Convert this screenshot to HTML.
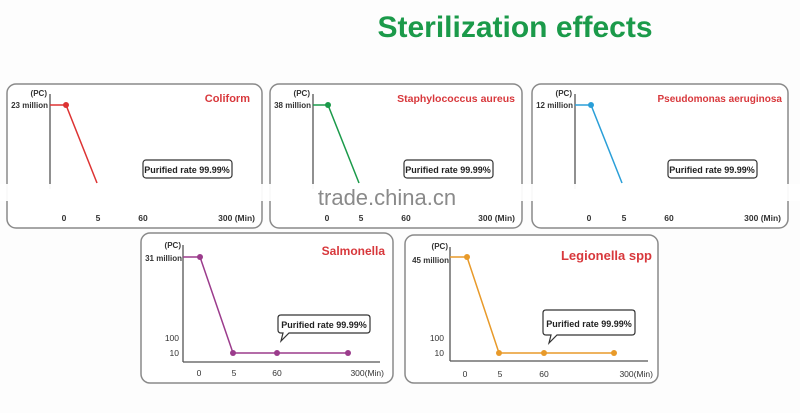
<!DOCTYPE html>
<html><head><style>
html,body{margin:0;padding:0;background:#fff;}
svg{display:block;font-family:"Liberation Sans",sans-serif;}
</style></head><body>
<svg width="800" height="413" viewBox="0 0 800 413">
<rect width="800" height="413" fill="#fdfdfd"/>
<text x="515" y="37" text-anchor="middle" font-size="30" font-weight="bold" fill="#1b9a4a">Sterilization effects</text>

<g transform="translate(7,84)">
 <rect x="0" y="0" width="255" height="144" rx="9" fill="#fff" stroke="#8a8a8a" stroke-width="1.5"/>
 <line x1="43" y1="10" x2="43" y2="105" stroke="#555" stroke-width="1.3"/>
 <text x="40" y="12" font-size="8" font-weight="bold" fill="#333" text-anchor="end">(PC)</text>
 <text x="41" y="24" font-size="8" font-weight="bold" fill="#333" text-anchor="end">23 million</text>
 <line x1="43" y1="21" x2="59" y2="21" stroke="#d33" stroke-width="1.5"/>
 <polyline points="59,21 90,99" fill="none" stroke="#d33" stroke-width="1.5"/>
 <circle cx="59" cy="21" r="3" fill="#d33"/>
 <rect x="136" y="76" width="89" height="18" rx="3" fill="#fff" stroke="#333" stroke-width="1.2"/>
 <text x="180" y="89" font-size="9" font-weight="bold" fill="#222" text-anchor="middle">Purified rate 99.99%</text>
 <text x="243" y="18" font-size="11" font-weight="bold" fill="#d8383c" text-anchor="end">Coliform</text>
 <text x="57" y="137" font-size="8.5" font-weight="bold" fill="#333" text-anchor="middle">0</text>
 <text x="91" y="137" font-size="8.5" font-weight="bold" fill="#333" text-anchor="middle">5</text>
 <text x="136" y="137" font-size="8.5" font-weight="bold" fill="#333" text-anchor="middle">60</text>
 <text x="248" y="137" font-size="8.5" font-weight="bold" fill="#333" text-anchor="end">300 (Min)</text>
</g>
<g transform="translate(270,84)">
 <rect x="0" y="0" width="252" height="144" rx="9" fill="#fff" stroke="#8a8a8a" stroke-width="1.5"/>
 <line x1="43" y1="10" x2="43" y2="105" stroke="#555" stroke-width="1.3"/>
 <text x="40" y="12" font-size="8" font-weight="bold" fill="#333" text-anchor="end">(PC)</text>
 <text x="41" y="24" font-size="8" font-weight="bold" fill="#333" text-anchor="end">38 million</text>
 <line x1="43" y1="21" x2="58" y2="21" stroke="#1b9a4a" stroke-width="1.5"/>
 <polyline points="58,21 89,99" fill="none" stroke="#1b9a4a" stroke-width="1.5"/>
 <circle cx="58" cy="21" r="3" fill="#1b9a4a"/>
 <rect x="134" y="76" width="89" height="18" rx="3" fill="#fff" stroke="#333" stroke-width="1.2"/>
 <text x="178" y="89" font-size="9" font-weight="bold" fill="#222" text-anchor="middle">Purified rate 99.99%</text>
 <text x="245" y="18" font-size="10.5" font-weight="bold" fill="#d8383c" text-anchor="end">Staphylococcus aureus</text>
 <text x="57" y="137" font-size="8.5" font-weight="bold" fill="#333" text-anchor="middle">0</text>
 <text x="91" y="137" font-size="8.5" font-weight="bold" fill="#333" text-anchor="middle">5</text>
 <text x="136" y="137" font-size="8.5" font-weight="bold" fill="#333" text-anchor="middle">60</text>
 <text x="245" y="137" font-size="8.5" font-weight="bold" fill="#333" text-anchor="end">300 (Min)</text>
</g>
<g transform="translate(532,84)">
 <rect x="0" y="0" width="256" height="144" rx="9" fill="#fff" stroke="#8a8a8a" stroke-width="1.5"/>
 <line x1="43" y1="10" x2="43" y2="105" stroke="#555" stroke-width="1.3"/>
 <text x="40" y="12" font-size="8" font-weight="bold" fill="#333" text-anchor="end">(PC)</text>
 <text x="41" y="24" font-size="8" font-weight="bold" fill="#333" text-anchor="end">12 million</text>
 <line x1="43" y1="21" x2="59" y2="21" stroke="#2a9fd8" stroke-width="1.5"/>
 <polyline points="59,21 90,99" fill="none" stroke="#2a9fd8" stroke-width="1.5"/>
 <circle cx="59" cy="21" r="3" fill="#2a9fd8"/>
 <rect x="136" y="76" width="89" height="18" rx="3" fill="#fff" stroke="#333" stroke-width="1.2"/>
 <text x="180" y="89" font-size="9" font-weight="bold" fill="#222" text-anchor="middle">Purified rate 99.99%</text>
 <text x="250" y="18" font-size="10" font-weight="bold" fill="#d8383c" text-anchor="end">Pseudomonas aeruginosa</text>
 <text x="57" y="137" font-size="8.5" font-weight="bold" fill="#333" text-anchor="middle">0</text>
 <text x="92" y="137" font-size="8.5" font-weight="bold" fill="#333" text-anchor="middle">5</text>
 <text x="137" y="137" font-size="8.5" font-weight="bold" fill="#333" text-anchor="middle">60</text>
 <text x="249" y="137" font-size="8.5" font-weight="bold" fill="#333" text-anchor="end">300 (Min)</text>
</g>
<rect x="0" y="184" width="800" height="17" fill="#fff" opacity="0.95"/>
<text x="387" y="205" font-size="22" fill="#8a8a8a" text-anchor="middle">trade.china.cn</text>

<g transform="translate(141,233)">
 <rect x="0" y="0" width="252" height="150" rx="9" fill="#fff" stroke="#8a8a8a" stroke-width="1.5"/>
 <line x1="42" y1="12" x2="42" y2="129" stroke="#555" stroke-width="1.3"/>
 <line x1="42" y1="129" x2="239" y2="129" stroke="#555" stroke-width="1.3"/>
 <text x="40" y="15" font-size="8" font-weight="bold" fill="#333" text-anchor="end">(PC)</text>
 <text x="41" y="28" font-size="8" font-weight="bold" fill="#333" text-anchor="end">31 million</text>
 <text x="38" y="108" font-size="8.5" fill="#333" text-anchor="end">100</text>
 <text x="38" y="123" font-size="8.5" fill="#333" text-anchor="end">10</text>
 <polyline points="42,24 59,24 92,120 136,120 207,120" fill="none" stroke="#9b3c8c" stroke-width="1.5"/>
 <g fill="#9b3c8c"><circle cx="59" cy="24" r="3"/><circle cx="92" cy="120" r="3"/><circle cx="136" cy="120" r="3"/><circle cx="207" cy="120" r="3"/></g>
 <path d="M140,82 L226,82 Q229,82 229,85 L229,97 Q229,100 226,100 L148,100 L140,108 L142,100 L140,100 Q137,100 137,97 L137,85 Q137,82 140,82 Z" fill="#fff" stroke="#333" stroke-width="1.2"/>
 <text x="183" y="95" font-size="9" font-weight="bold" fill="#222" text-anchor="middle">Purified rate 99.99%</text>
 <text x="244" y="22" font-size="12" font-weight="bold" fill="#d8383c" text-anchor="end">Salmonella</text>
 <text x="58" y="143" font-size="8.5" fill="#333" text-anchor="middle">0</text>
 <text x="93" y="143" font-size="8.5" fill="#333" text-anchor="middle">5</text>
 <text x="136" y="143" font-size="8.5" fill="#333" text-anchor="middle">60</text>
 <text x="243" y="143" font-size="8.5" fill="#333" text-anchor="end">300(Min)</text>
</g>
<g transform="translate(405,235)">
 <rect x="0" y="0" width="253" height="148" rx="9" fill="#fff" stroke="#8a8a8a" stroke-width="1.5"/>
 <line x1="45" y1="12" x2="45" y2="126" stroke="#555" stroke-width="1.3"/>
 <line x1="45" y1="126" x2="243" y2="126" stroke="#555" stroke-width="1.3"/>
 <text x="43" y="14" font-size="8" font-weight="bold" fill="#333" text-anchor="end">(PC)</text>
 <text x="44" y="28" font-size="8" font-weight="bold" fill="#333" text-anchor="end">45 million</text>
 <text x="39" y="106" font-size="8.5" fill="#333" text-anchor="end">100</text>
 <text x="39" y="121" font-size="8.5" fill="#333" text-anchor="end">10</text>
 <polyline points="45,22 62,22 94,118 139,118 209,118" fill="none" stroke="#e89a2a" stroke-width="1.5"/>
 <g fill="#e89a2a"><circle cx="62" cy="22" r="3"/><circle cx="94" cy="118" r="3"/><circle cx="139" cy="118" r="3"/><circle cx="209" cy="118" r="3"/></g>
 <path d="M141,75 L227,75 Q230,75 230,78 L230,97 Q230,100 227,100 L152,100 L144,108 L146,100 L141,100 Q138,100 138,97 L138,78 Q138,75 141,75 Z" fill="#fff" stroke="#333" stroke-width="1.2"/>
 <text x="184" y="92" font-size="9" font-weight="bold" fill="#222" text-anchor="middle">Purified rate 99.99%</text>
 <text x="247" y="25" font-size="13" font-weight="bold" fill="#d8383c" text-anchor="end">Legionella spp</text>
 <text x="60" y="142" font-size="8.5" fill="#333" text-anchor="middle">0</text>
 <text x="95" y="142" font-size="8.5" fill="#333" text-anchor="middle">5</text>
 <text x="139" y="142" font-size="8.5" fill="#333" text-anchor="middle">60</text>
 <text x="248" y="142" font-size="8.5" fill="#333" text-anchor="end">300(Min)</text>
</g>
</svg>
</body></html>
